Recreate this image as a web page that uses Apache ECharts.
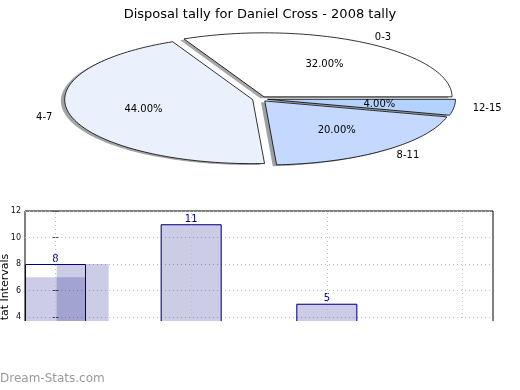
<!DOCTYPE html>
<html><head><meta charset="utf-8">
<script src="https://cdn.jsdelivr.net/npm/echarts@6/dist/echarts.min.js"></script>
<style>html,body{margin:0;padding:0;background:#fff}#c{width:520px;height:390px}</style>
</head><body><div id="c"></div>
<script>
// ---- data ----
const chartTitle = 'Disposal tally for Daniel Cross - 2008 tally';
const pieLabels = ['0-3', '4-7', '8-11', '12-15'];
const pieValues = [8, 11, 5, 1];
const barX = [0, 1, 2, 3];
const barValues = [8, 11, 5, 1];
const barShadeValues = [7, 11, 5, 1];
const extraBarX = [0.2];
const extraBarValues = [8];
const yTickValues = [0, 2, 4, 6, 8, 10, 12];
const yAxisTitle = 'Stat Intervals';
const watermarkText = 'Dream-Stats.com';

// ---- styles / geometry ----
const pieColors = ['#ffffff', '#eaf1fd', '#c4d9fd', '#b3d2fe'];
const FONT = '"DejaVu Sans", sans-serif';
const CX = 260, CY = 99, RX = 188, RY = 64, EXP = 0.04;
const SHX = -3.8, SHY = 1.3;
const NAVY = '#000080';

const total = pieValues.reduce((a, b) => a + b, 0);
const pieStarts = [];
pieValues.reduce((acc, v) => { pieStarts.push(acc); return acc + v; }, 0);
const pieData = pieValues.map((v, i) => [v, pieStarts[i]]);

function hexToRgb(h) { const n = parseInt(h.slice(1), 16); return [(n >> 16) & 255, (n >> 8) & 255, n & 255]; }

function makePie(shadow) {
  return function (params, api) {
    const i = params.dataIndex;
    const v = api.value(0), s = api.value(1);
    const a0 = s / total * 2 * Math.PI, a1 = (s + v) / total * 2 * Math.PI, am = (a0 + a1) / 2;
    const ox = CX + EXP * RX * Math.cos(am), oy = CY - EXP * RY * Math.sin(am);
    const ax = ox + (shadow ? SHX : 0), ay = oy + (shadow ? SHY : 0);
    const pts = [[ax, ay]];
    const n = Math.max(4, Math.ceil((a1 - a0) / (Math.PI / 120)));
    for (let k = 0; k <= n; k++) {
      const t = a0 + (a1 - a0) * k / n;
      pts.push([ax + RX * Math.cos(t), ay - RY * Math.sin(t)]);
    }
    if (shadow) {
      const c = hexToRgb(pieColors[i]);
      return { type: 'polygon', shape: { points: pts },
        style: { fill: `rgba(${Math.round(c[0]*0.3)},${Math.round(c[1]*0.3)},${Math.round(c[2]*0.3)},0.5)`, stroke: null } };
    }
    const lx = ox + 1.1 * RX * Math.cos(am), ly = oy - 1.1 * RY * Math.sin(am);
    const px = ox + 0.6 * RX * Math.cos(am), py = oy - 0.6 * RY * Math.sin(am);
    return { type: 'group', children: [
      { type: 'polygon', shape: { points: pts }, style: { fill: pieColors[i], stroke: '#000', lineWidth: 0.8 } },
      { type: 'text', x: lx, y: ly, style: { text: pieLabels[i], fill: '#000', font: '10px ' + FONT,
          align: Math.cos(am) > 0 ? 'left' : 'right', verticalAlign: 'middle' } },
      { type: 'text', x: px, y: py, style: { text: (v / total * 100).toFixed(2) + '%', fill: '#000', font: '10px ' + FONT,
          align: 'center', verticalAlign: 'middle' } }
    ] };
  };
}

const xBase = { type: 'value', gridIndex: 0, min: -0.225, max: 3.225, axisLine: { show: false },
  axisLabel: { show: false }, axisTick: { show: false }, splitLine: { show: false } };
const yBase = { type: 'value', gridIndex: 0, min: 0, max: 12, interval: 2 };

const option = {
  animation: false,
  backgroundColor: '#fff',
  title: { text: chartTitle, left: 'center', top: 3,
    textStyle: { fontFamily: FONT, fontSize: 13, fontWeight: 'normal', color: '#000' } },
  grid: { left: 25, top: 211, width: 468, height: 159, show: true, borderColor: '#000', borderWidth: 1,
    backgroundColor: 'transparent', containLabel: false, outerBoundsMode: 'none' },
  xAxis: [
    Object.assign({}, xBase, { position: 'top',
      axisTick: { show: true, inside: true, length: 3, lineStyle: { color: '#555' }, customValues: barX } }),
    Object.assign({}, xBase),
    Object.assign({}, xBase)
  ],
  yAxis: [
    Object.assign({}, yBase, {
      name: yAxisTitle, nameLocation: 'middle', nameGap: 14, nameMoveOverlap: false,
      nameTextStyle: { fontFamily: FONT, fontSize: 11, color: '#000' },
      axisLine: { show: false },
      axisTick: { show: true, inside: true, length: 3, lineStyle: { color: '#555' } },
      axisLabel: { fontFamily: FONT, fontSize: 8, color: '#111', margin: 4 },
      splitLine: { show: true, lineStyle: { color: '#bdbdbd', type: [1, 3], width: 1 } }
    }),
    Object.assign({}, yBase, { position: 'right', axisLine: { show: false }, axisLabel: { show: false },
      axisTick: { show: true, inside: true, length: 3, lineStyle: { color: '#555' } }, splitLine: { show: false } })
  ],
  series: [
    { type: 'custom', coordinateSystem: 'none', renderItem: makePie(true), data: pieData, silent: true, z: 1 },
    { type: 'custom', coordinateSystem: 'none', renderItem: makePie(false), data: pieData, silent: true, z: 2 },
    { type: 'bar', xAxisIndex: 1, yAxisIndex: 0, barWidth: 61, silent: true,
      data: barX.map((x, i) => [x, barShadeValues[i]]),
      itemStyle: { color: 'rgba(0,0,128,0.2)' },
      markLine: { silent: true, symbol: 'none', label: { show: false },
        lineStyle: { color: '#bdbdbd', type: [1, 3], width: 1 },
        data: barX.map(x => ({ xAxis: x })) } },
    { type: 'bar', xAxisIndex: 2, yAxisIndex: 0, barWidth: 52, silent: true,
      data: extraBarX.map((x, i) => [x, extraBarValues[i]]),
      itemStyle: { color: 'rgba(0,0,128,0.2)' } },
    { type: 'bar', xAxisIndex: 0, yAxisIndex: 0, barWidth: 61, silent: true,
      data: barX.map((x, i) => [x, barValues[i]]),
      itemStyle: { color: 'rgba(0,0,0,0)', borderColor: NAVY, borderWidth: 1 },
      label: { show: true, position: 'top', distance: 0, color: '#0000a0', fontFamily: FONT, fontSize: 10 } }
  ],
  graphic: [
    { type: 'rect', left: 0, top: 321, shape: { width: 520, height: 69 }, style: { fill: '#fff' }, z: 100 },
    { type: 'text', left: 0, top: 373, style: { text: watermarkText, fill: '#9a9a9a', font: '12px ' + FONT }, z: 101 }
  ]
};
const chart = echarts.init(document.getElementById('c'), null, { renderer: 'canvas' });
chart.setOption(option);
</script></body></html>
